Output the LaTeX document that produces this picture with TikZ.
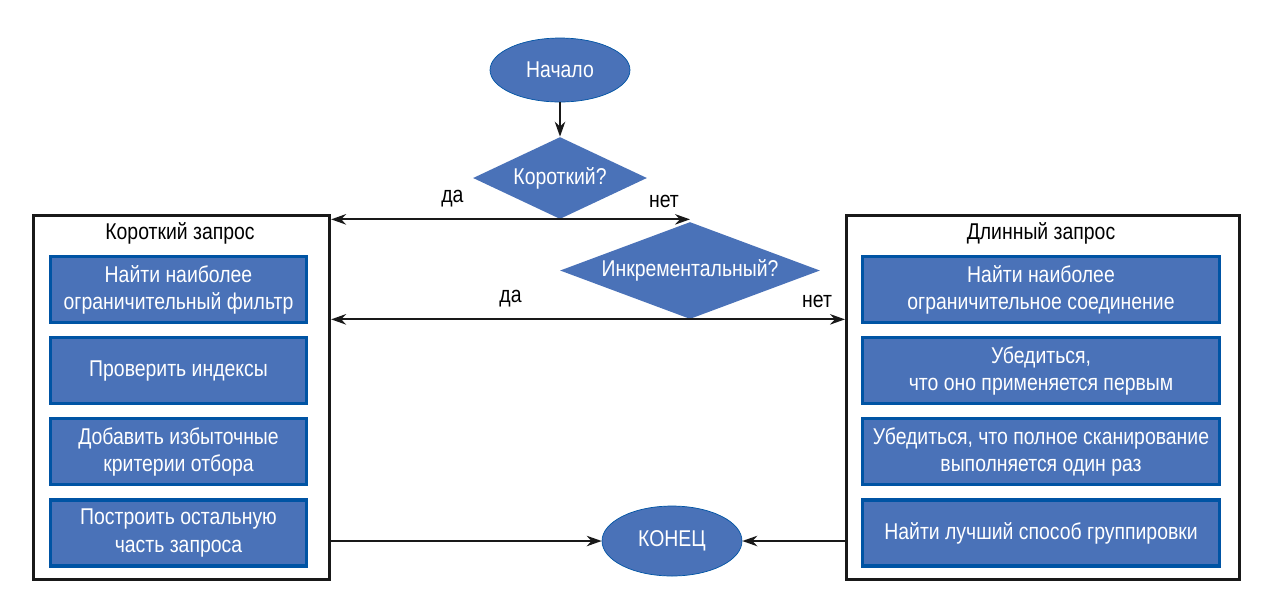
\documentclass[tikz,border=0pt]{standalone}
\usepackage{fontspec}
\setmainfont{Liberation Sans}[FakeStretch=0.85]
\usetikzlibrary{positioning, arrows.meta, shapes.geometric}
\definecolor{flowfill}{RGB}{74,114,184}
\definecolor{flowline}{RGB}{0,84,164}

\begin{document}
\begin{tikzpicture}[x=0.02cm, y=-0.02cm, font=\fontsize{13}{15.5}\selectfont,
  >={Stealth[length=3mm, width=2.1mm]},
  term/.style={ellipse, draw=flowline, fill=flowfill, text=white,
               minimum width=2.8cm, minimum height=1.28cm, inner sep=0pt},
  ask/.style={diamond, fill=flowfill, text=white, inner sep=0pt},
  grp/.style={draw=black!90, line width=1.8pt, anchor=north west, inner sep=0pt},
  act/.style={draw=flowline, line width=1.8pt, fill=flowfill, text=white,
              align=center, minimum height=1.32cm, inner sep=1pt},
  s/.style={->, draw=black!90, line width=1.1pt}]
\useasboundingbox (0,0) rectangle (1264,600);
% Start and the two questions.
\node[term] (start) at (560,70) {Начало};
\node[ask, aspect=2.12, minimum width=3.48cm, minimum height=1.64cm] (short) at (560,178) {Короткий?};
\node[ask, aspect=2.68, minimum width=5.2cm, minimum height=1.94cm] (incr) at (690,270.5) {Инкрементальный?};
% Short query (left).
\node[grp, minimum width=5.92cm, minimum height=7.28cm] (shortgrp) at (32,214) {};
\node (shorttitle) at (180,233) {Короткий запрос};
\node[act, minimum width=5.12cm, anchor=north] (filter) at (178.5,255) {Найти наиболее\\ограничительный фильтр};
\node[act, minimum width=5.12cm, below=0.24cm of filter] (index) {Проверить индексы};
\node[act, minimum width=5.12cm, below=0.24cm of index] (extra) {Добавить избыточные\\критерии отбора};
\node[act, minimum width=5.12cm, below=0.24cm of extra] (build) {Построить остальную\\часть запроса};
% Long query (right).
\node[grp, minimum width=7.86cm, minimum height=7.28cm] (longgrp) at (845,214) {};
\node (longtitle) at (1041,233) {Длинный запрос};
\node[act, minimum width=7.14cm, anchor=north] (join) at (1041,255) {Найти наиболее\\ограничительное соединение};
\node[act, minimum width=7.14cm, below=0.24cm of join] (first) {Убедиться,\\что оно применяется первым};
\node[act, minimum width=7.14cm, below=0.24cm of first] (scan) {Убедиться, что полное сканирование\\выполняется один раз};
\node[act, minimum width=7.14cm, below=0.24cm of scan] (group) {Найти лучший способ группировки};
% End.
\node[term, minimum height=1.4cm] (fin) at (672,541) {КОНЕЦ};
% Connectors with their answers.
\draw[s] (start) -- (short);
\draw[s] (short.south) -- (short.south -| shortgrp.east)
  node[above=3pt, pos=0.47] (yes1) {да};
\draw[s] (short.south) -- (short.south -| incr.north)
  node[above=3pt, pos=0.8] (no1) {нет};
\draw[s] (incr.south) -- (incr.south -| shortgrp.east)
  node[above=3pt, pos=0.5] (yes2) {да};
\draw[s] (incr.south) -- (incr.south -| longgrp.west)
  node[above=3pt, pos=0.82] (no2) {нет};
\draw[s] (fin.west -| shortgrp.east) -- (fin);
\draw[s] (fin.east -| longgrp.west) -- (fin);
\end{tikzpicture}
\end{document}
